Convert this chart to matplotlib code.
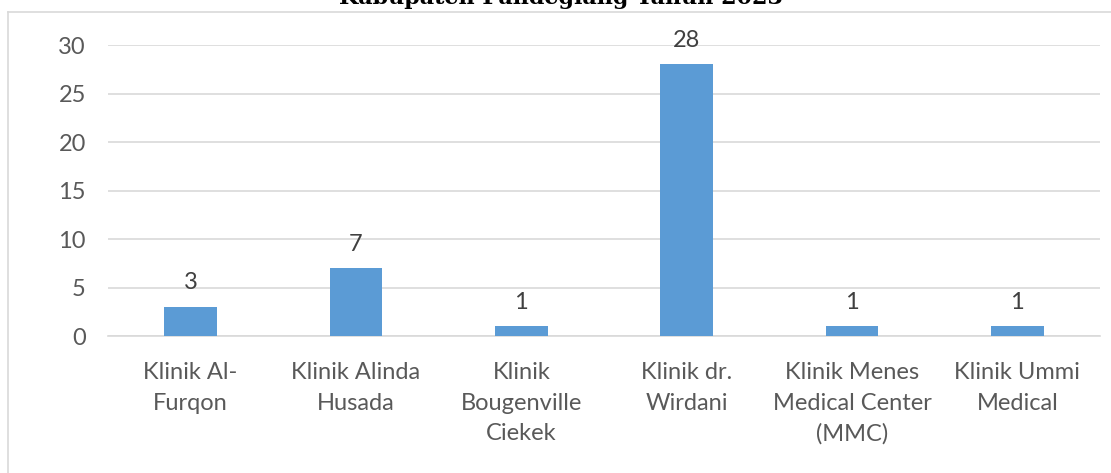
import matplotlib.pyplot as plt
from matplotlib.lines import Line2D

klinik = ["Klinik Al-\nFurqon", "Klinik Alinda\nHusada", "Klinik\nBougenville\nCiekek",
          "Klinik dr.\nWirdani", "Klinik Menes\nMedical Center\n(MMC)", "Klinik Ummi\nMedical"]
jumlah = [3, 7, 1, 28, 1, 1]
yticks = [0, 5, 10, 15, 20, 25, 30]

plt.rcParams['font.family'] = ['Lato', 'DejaVu Sans']
grey = '#595959'

fig = plt.figure(figsize=(11.11, 4.73), dpi=100)
ax = fig.add_axes([108/1111, 1 - 336/473, 992/1111, 291/473])

x = range(len(jumlah))
ax.bar(x, jumlah, width=0.32, color='#5b9bd5', zorder=3)
for xi, v in zip(x, jumlah):
    ax.text(xi, v + 1.4, str(v), ha='center', va='bottom', fontsize=17, color='#404040')

ax.set_xlim(-0.5, len(jumlah) - 0.5)
ax.set_ylim(0, 30)
ax.set_yticks(yticks)
ax.set_xticks(list(x))
ax.set_xticklabels(klinik, fontsize=17, color=grey, linespacing=1.55)
ax.tick_params(axis='y', labelsize=17, labelcolor=grey, length=0, pad=16)
ax.tick_params(axis='x', length=0, pad=19)
ax.grid(axis='y', color='#d9d9d9', linewidth=1.2, zorder=0)
for s in ['top', 'right', 'left']:
    ax.spines[s].set_visible(False)
ax.spines['bottom'].set_color('#d9d9d9')
ax.spines['bottom'].set_linewidth(1.2)

# chart frame (cut off at right and bottom)
fig.add_artist(Line2D([8/1111, 1], [1 - 12/473, 1 - 12/473], color='#d9d9d9', lw=1.2))
fig.add_artist(Line2D([8/1111, 8/1111], [0, 1 - 12/473], color='#d9d9d9', lw=1.2))

fig.text(0.505, 1 - 4/473, "Kabupaten Pandeglang Tahun 2023", ha='center', va='baseline',
         fontsize=16, fontweight='bold', family='DejaVu Serif')

fig.savefig('out.png', dpi=100)
